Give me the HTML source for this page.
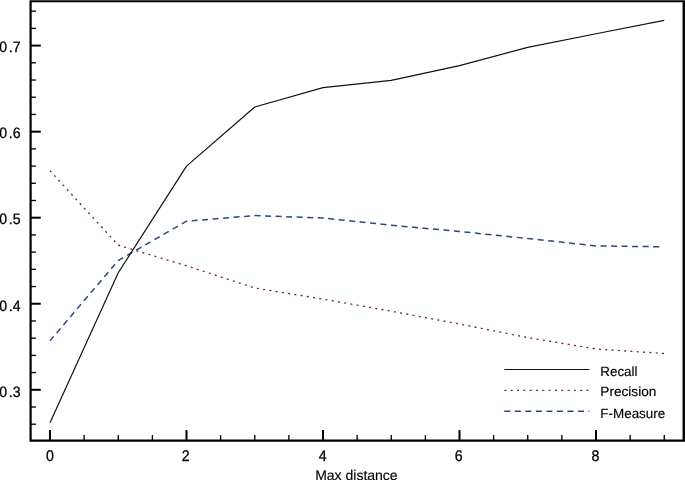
<!DOCTYPE html><html><head><meta charset="utf-8"><style>html,body{margin:0;padding:0;background:#fff;}svg{display:block;will-change:transform;}text{font-family:"Liberation Sans",sans-serif;fill:#000;text-rendering:geometricPrecision;stroke:#000;stroke-width:0.15px;}text.t{stroke-width:0.3px;}</style></head><body>
<svg width="685" height="480" viewBox="0 0 685 480">
<rect x="0" y="0" width="685" height="480" fill="#fff"/>
<line x1="30.60" y1="424.22" x2="35.90" y2="424.22" stroke="#000" stroke-width="1.35"/><line x1="30.60" y1="407.01" x2="35.90" y2="407.01" stroke="#000" stroke-width="1.35"/><line x1="30.60" y1="389.80" x2="40.80" y2="389.80" stroke="#000" stroke-width="2.0"/><line x1="30.60" y1="372.59" x2="35.90" y2="372.59" stroke="#000" stroke-width="1.35"/><line x1="30.60" y1="355.38" x2="35.90" y2="355.38" stroke="#000" stroke-width="1.35"/><line x1="30.60" y1="338.17" x2="35.90" y2="338.17" stroke="#000" stroke-width="1.35"/><line x1="30.60" y1="320.96" x2="35.90" y2="320.96" stroke="#000" stroke-width="1.35"/><line x1="30.60" y1="303.75" x2="40.80" y2="303.75" stroke="#000" stroke-width="2.0"/><line x1="30.60" y1="286.54" x2="35.90" y2="286.54" stroke="#000" stroke-width="1.35"/><line x1="30.60" y1="269.33" x2="35.90" y2="269.33" stroke="#000" stroke-width="1.35"/><line x1="30.60" y1="252.12" x2="35.90" y2="252.12" stroke="#000" stroke-width="1.35"/><line x1="30.60" y1="234.91" x2="35.90" y2="234.91" stroke="#000" stroke-width="1.35"/><line x1="30.60" y1="217.70" x2="40.80" y2="217.70" stroke="#000" stroke-width="2.0"/><line x1="30.60" y1="200.49" x2="35.90" y2="200.49" stroke="#000" stroke-width="1.35"/><line x1="30.60" y1="183.28" x2="35.90" y2="183.28" stroke="#000" stroke-width="1.35"/><line x1="30.60" y1="166.07" x2="35.90" y2="166.07" stroke="#000" stroke-width="1.35"/><line x1="30.60" y1="148.86" x2="35.90" y2="148.86" stroke="#000" stroke-width="1.35"/><line x1="30.60" y1="131.65" x2="40.80" y2="131.65" stroke="#000" stroke-width="2.0"/><line x1="30.60" y1="114.44" x2="35.90" y2="114.44" stroke="#000" stroke-width="1.35"/><line x1="30.60" y1="97.23" x2="35.90" y2="97.23" stroke="#000" stroke-width="1.35"/><line x1="30.60" y1="80.02" x2="35.90" y2="80.02" stroke="#000" stroke-width="1.35"/><line x1="30.60" y1="62.81" x2="35.90" y2="62.81" stroke="#000" stroke-width="1.35"/><line x1="30.60" y1="45.60" x2="40.80" y2="45.60" stroke="#000" stroke-width="2.0"/><line x1="30.60" y1="28.39" x2="35.90" y2="28.39" stroke="#000" stroke-width="1.35"/><line x1="30.60" y1="11.18" x2="35.90" y2="11.18" stroke="#000" stroke-width="1.35"/><line x1="50.00" y1="440.70" x2="50.00" y2="430.10" stroke="#000" stroke-width="2.0"/><line x1="84.12" y1="440.70" x2="84.12" y2="435.10" stroke="#000" stroke-width="1.35"/><line x1="118.25" y1="440.70" x2="118.25" y2="435.10" stroke="#000" stroke-width="1.35"/><line x1="152.38" y1="440.70" x2="152.38" y2="435.10" stroke="#000" stroke-width="1.35"/><line x1="186.50" y1="440.70" x2="186.50" y2="430.10" stroke="#000" stroke-width="2.0"/><line x1="220.62" y1="440.70" x2="220.62" y2="435.10" stroke="#000" stroke-width="1.35"/><line x1="254.75" y1="440.70" x2="254.75" y2="435.10" stroke="#000" stroke-width="1.35"/><line x1="288.88" y1="440.70" x2="288.88" y2="435.10" stroke="#000" stroke-width="1.35"/><line x1="323.00" y1="440.70" x2="323.00" y2="430.10" stroke="#000" stroke-width="2.0"/><line x1="357.12" y1="440.70" x2="357.12" y2="435.10" stroke="#000" stroke-width="1.35"/><line x1="391.25" y1="440.70" x2="391.25" y2="435.10" stroke="#000" stroke-width="1.35"/><line x1="425.38" y1="440.70" x2="425.38" y2="435.10" stroke="#000" stroke-width="1.35"/><line x1="459.50" y1="440.70" x2="459.50" y2="430.10" stroke="#000" stroke-width="2.0"/><line x1="493.62" y1="440.70" x2="493.62" y2="435.10" stroke="#000" stroke-width="1.35"/><line x1="527.75" y1="440.70" x2="527.75" y2="435.10" stroke="#000" stroke-width="1.35"/><line x1="561.88" y1="440.70" x2="561.88" y2="435.10" stroke="#000" stroke-width="1.35"/><line x1="596.00" y1="440.70" x2="596.00" y2="430.10" stroke="#000" stroke-width="2.0"/><line x1="630.12" y1="440.70" x2="630.12" y2="435.10" stroke="#000" stroke-width="1.35"/><line x1="664.25" y1="440.70" x2="664.25" y2="435.10" stroke="#000" stroke-width="1.35"/>
<path d="M29.5 0.2H685.5V2.15H29.5Z M29.5 439.6H685.5V441.75H29.5Z M29.5 0.2H31.7V441.75H29.5Z M682.55 0.2H685.5V441.75H682.55Z" fill="#000"/>
<polyline points="50.00,170.80 118.25,245.20 186.50,265.80 254.75,288.00 323.00,299.10 391.25,311.20 459.50,324.00 527.75,337.60 596.00,349.00 664.25,353.50" fill="none" stroke="#702832" stroke-width="1.35" stroke-dasharray="2.0 4.317" stroke-dashoffset="0.15"/>
<polyline points="50.00,340.75 118.25,260.50 186.50,221.20 254.75,215.60 323.00,218.00 391.25,225.20 459.50,231.50 527.75,238.50 596.00,245.90 663.40,246.80" fill="none" stroke="#2b477c" stroke-width="1.5" stroke-dasharray="6.0 4.528" stroke-dashoffset="0.27"/>
<polyline points="50.00,422.70 118.25,272.80 186.50,166.10 254.75,107.00 323.00,87.60 391.25,80.40 459.50,65.60 527.75,47.40 596.00,33.75 664.25,20.30" fill="none" stroke="#111" stroke-width="1.2" stroke-linejoin="round"/>
<text transform="translate(20.6 397.15) scale(0.94 1)" font-size="15.0" class="t" text-anchor="end">.3</text>
<text transform="translate(7.1 397.15) scale(0.94 1)" font-size="15.0" class="t" text-anchor="end">0</text>
<text transform="translate(20.6 310.75) scale(0.94 1)" font-size="15.0" class="t" text-anchor="end">.4</text>
<text transform="translate(7.1 310.75) scale(0.94 1)" font-size="15.0" class="t" text-anchor="end">0</text>
<text transform="translate(20.6 224.45) scale(0.94 1)" font-size="15.0" class="t" text-anchor="end">.5</text>
<text transform="translate(7.1 224.45) scale(0.94 1)" font-size="15.0" class="t" text-anchor="end">0</text>
<text transform="translate(20.6 138.25) scale(0.94 1)" font-size="15.0" class="t" text-anchor="end">.6</text>
<text transform="translate(7.1 138.25) scale(0.94 1)" font-size="15.0" class="t" text-anchor="end">0</text>
<text transform="translate(20.6 52.20) scale(0.94 1)" font-size="15.0" class="t" text-anchor="end">.7</text>
<text transform="translate(7.1 52.20) scale(0.94 1)" font-size="15.0" class="t" text-anchor="end">0</text>
<text transform="translate(50.00 460.8) scale(0.92 1)" font-size="15.4" class="t" text-anchor="middle">0</text>
<text transform="translate(185.60 460.8) scale(0.92 1)" font-size="15.4" class="t" text-anchor="middle">2</text>
<text transform="translate(322.70 460.8) scale(0.92 1)" font-size="15.4" class="t" text-anchor="middle">4</text>
<text transform="translate(458.65 460.8) scale(0.92 1)" font-size="15.4" class="t" text-anchor="middle">6</text>
<text transform="translate(595.35 460.8) scale(0.92 1)" font-size="15.4" class="t" text-anchor="middle">8</text>
<text x="356.40" y="480.0" font-size="14" text-anchor="middle">Max distance</text>
<line x1="504.3" y1="369.5" x2="589.4" y2="369.5" stroke="#111" stroke-width="1.2"/>
<line x1="504.3" y1="390.4" x2="589.4" y2="390.4" stroke="#702832" stroke-width="1.35" stroke-dasharray="2.0 4.317" stroke-dashoffset="-0.1"/>
<line x1="504.3" y1="411.3" x2="589.4" y2="411.3" stroke="#2b477c" stroke-width="1.5" stroke-dasharray="6.0 4.528"/>
<text x="600.3" y="375.5" font-size="13.4" textLength="37.16" lengthAdjust="spacingAndGlyphs">Recall</text>
<text x="600.3" y="396.4" font-size="13.4" textLength="56.1" lengthAdjust="spacingAndGlyphs">Precision</text>
<text x="600.3" y="417.5" font-size="13.4" textLength="64.96" lengthAdjust="spacingAndGlyphs">F-Measure</text>
</svg></body></html>
